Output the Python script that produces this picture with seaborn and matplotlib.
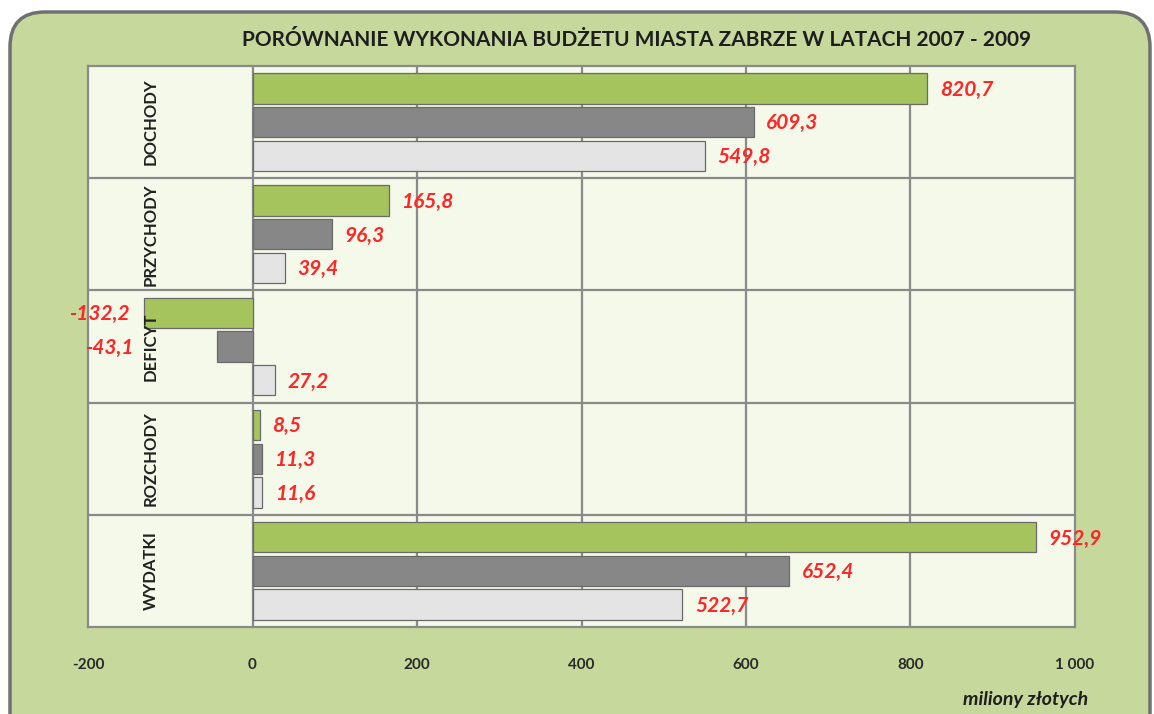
import pandas as pd
import matplotlib.pyplot as plt
import seaborn as sns
from matplotlib.patches import FancyBboxPatch

# dane (mln zl)
kategorie = ['DOCHODY', 'PRZYCHODY', 'DEFICYT', 'ROZCHODY', 'WYDATKI']
lata = ['2009', '2008', '2007']
wart_2009 = [820.7, 165.8, -132.2, 8.5, 952.9]
wart_2008 = [609.3, 96.3, -43.1, 11.3, 652.4]
wart_2007 = [549.8, 39.4, 27.2, 11.6, 522.7]
x_ticks = [-200, 0, 200, 400, 600, 800, 1000]
x_tick_labels = ['-200', '0', '200', '400', '600', '800', '1 000']

kolory = ['#a6c45e', '#878787', '#e4e4e4']
tlo = '#c6d89c'
tlo_wykresu = '#f4f9e9'
czerwony = '#ff2626'

df = pd.DataFrame({
    'kategoria': kategorie * 3,
    'rok': [lata[0]] * 5 + [lata[1]] * 5 + [lata[2]] * 5,
    'wartosc': wart_2009 + wart_2008 + wart_2007,
})

sns.set_theme(style='white')
plt.rcParams['font.family'] = ['Lato', 'DejaVu Sans']

fig = plt.figure(figsize=(11.54, 7.14), dpi=100)
fig.patch.set_facecolor('white')

# zaokraglony panel tla
panel = FancyBboxPatch((0.10, -0.6), 11.40, 7.62,
                       boxstyle='round,pad=0,rounding_size=0.35',
                       transform=fig.dpi_scale_trans, facecolor=tlo,
                       edgecolor='#707070', linewidth=2.5, zorder=-10)
fig.add_artist(panel)

ax = fig.add_axes([0.0763, 0.1218, 0.8552, 0.7858])
ax.set_facecolor(tlo_wykresu)

sns.barplot(data=df, y='kategoria', x='wartosc', hue='rok', hue_order=lata,
            order=kategorie, orient='h', palette=kolory, saturation=1,
            width=0.9, gap=0.1, edgecolor='#6a6a6a', linewidth=0.9,
            legend=False, ax=ax, zorder=3)

ax.set_xlim(-200, 1000)
ax.set_ylim(len(kategorie) - 0.5, -0.5)
ax.set_xticks(x_ticks)
ax.set_xticklabels(x_tick_labels, fontsize=11, fontweight='bold', color='#2a2a2a')
ax.tick_params(axis='x', length=0, pad=22)
ax.set_yticks([])
ax.set_xlabel('')
ax.set_ylabel('')

# siatka
for xv in x_ticks[1:-1]:
    ax.axvline(xv, color='#8a8a8a', lw=1.6, zorder=1)
for yv in [0.5, 1.5, 2.5, 3.5]:
    ax.axhline(yv, color='#8a8a8a', lw=1.6, zorder=1)
for s in ax.spines.values():
    s.set_color('#8a8a8a')
    s.set_linewidth(1.6)

# etykiety wartosci
styl = dict(color=czerwony, fontsize=15, fontweight='bold', fontstyle='italic', zorder=5)
for cont in ax.containers:
    for b in cont:
        v = b.get_width()
        yc = b.get_y() + b.get_height() / 2
        txt = f'{v:.1f}'.replace('.', ',')
        if v >= 0:
            ax.annotate(txt, (v, yc), xytext=(9, -1), textcoords='offset points',
                        ha='left', va='center', **styl)
        else:
            # ujemne - z lewej, poza nazwa kategorii
            ax.annotate(txt, (min(v, -128), yc), xytext=(-10, -1), textcoords='offset points',
                        ha='right', va='center', **styl)

# nazwy kategorii
for i, k in enumerate(kategorie):
    ax.text(-124, i, k, rotation=90, ha='center', va='center', fontsize=12,
            fontweight='bold', color='#222222', zorder=6)

fig.text(0.552, 0.944, 'PORÓWNANIE WYKONANIA BUDŻETU MIASTA ZABRZE W LATACH 2007 - 2009',
         ha='center', va='center', fontsize=15, fontweight='bold', color='#1e1e1e')
fig.text(0.943, 0.02, 'miliony złotych', ha='right', va='center', fontsize=14,
         fontweight='bold', fontstyle='italic', color='#1e1e1e')

fig.savefig('out.png', dpi=100)
